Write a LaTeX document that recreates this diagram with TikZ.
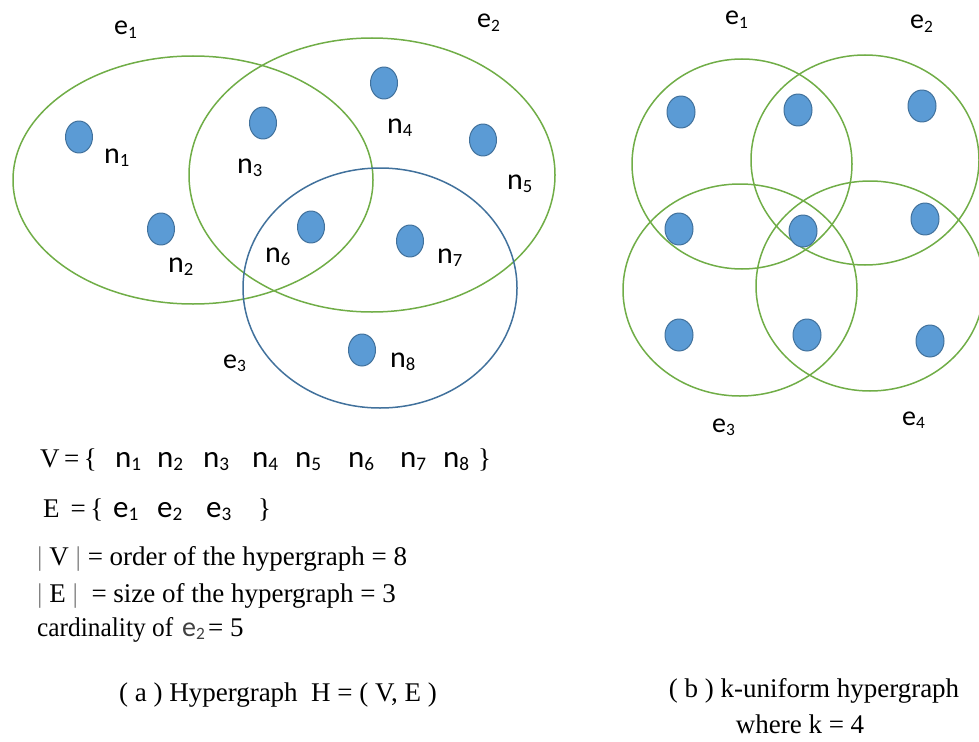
\documentclass[tikz,border=0pt]{standalone}
\usepackage{fontspec}
\usepackage{graphicx}
\setmainfont{Liberation Serif}
\newfontfamily\labfont{Carlito}
\usetikzlibrary{shapes.geometric}
\definecolor{edgegreen}{RGB}{112,173,71}
\definecolor{edgeblue}{RGB}{65,113,156}
\definecolor{dotfill}{RGB}{91,155,213}
\definecolor{dotdraw}{RGB}{65,113,156}
\newcommand\sbs[1]{\raisebox{-0.12em}{\scalebox{0.62}{#1}}}
\tikzset{
  dot/.style={ellipse, fill=dotfill, draw=dotdraw, line width=1pt,
    minimum width=27pt, minimum height=32pt, inner sep=0pt},
  vlabel/.style={font=\labfont\fontsize{30}{30}\selectfont, anchor=base west, inner sep=0pt},
  elabel/.style={font=\labfont\fontsize{28}{28}\selectfont, anchor=base west, inner sep=0pt},
  setitem/.style={font=\labfont\fontsize{31}{31}\selectfont, anchor=base west, inner sep=0pt},
  txt/.style={font=\fontsize{27}{27}\selectfont, anchor=base west, inner sep=0pt},
  hedge/.style={draw=edgegreen, line width=1.5pt},
}
\begin{document}
\begin{tikzpicture}[x=1pt, y=-1pt, line join=round, line cap=round]
\useasboundingbox (0,0) rectangle (979,741);
% (a) hypergraph
\draw[hedge] (193,180) ellipse [x radius=180, y radius=124];
\draw[hedge] (372,175) ellipse [x radius=183, y radius=137];
\draw[draw=edgeblue, line width=1.5pt] (380,288) ellipse [x radius=137, y radius=120];
\foreach \i/\x/\y in {1/79/137, 2/161/229, 3/263/123, 4/384/83,
    5/483/140, 6/311/227, 7/410/241, 8/362/350}
  \node[dot] (n\i) at (\x,\y) {};
\foreach \i/\x/\y in {1/104/163, 2/168/272, 3/237/173, 4/387/133,
    5/507/189, 6/265/262, 7/437/263, 8/390/367}
  \node[vlabel] (ln\i) at (\x,\y) {n\sbs{\i}};
\node[elabel] (le1) at (114,35) {e\sbs{1}};
\node[elabel] (le2) at (477,28) {e\sbs{2}};
\node[elabel] (le3) at (223,368) {e\sbs{3}};

% (b) k-uniform hypergraph
\draw[hedge] (742,164) circle [x radius=110, y radius=105];
\draw[hedge] (865,160) circle [x radius=114, y radius=105];
\draw[hedge] (740,290) circle [x radius=117, y radius=106];
\draw[hedge] (870,286) circle [x radius=114, y radius=105];
\foreach \i/\x/\y in {1/681/112, 2/798/110, 3/922/106, 4/679/229, 5/803/231,
    6/925/219, 7/679/335, 8/807/335, 9/930/341}
  \node[dot, minimum width=28pt] (k\i) at (\x,\y) {};
\node[elabel] (ke1) at (725,25) {e\sbs{1}};
\node[elabel] (ke2) at (910,29) {e\sbs{2}};
\node[elabel] (ke3) at (712,432) {e\sbs{3}};
\node[elabel] (ke4) at (902,425) {e\sbs{4}};

% sets
\node[txt] (vset) at (40,467) {V\,=\,\{};
\foreach \i/\x in {1/115, 2/157, 3/203, 4/252, 5/295, 6/348, 7/400, 8/443}
  \node[setitem] (vs\i) at (\x,467) {n\sbs{\i}};
\node[txt] (vend) at (478,467) {\}};
\node[txt] (eset) at (43,517) {E\hspace{11pt}=\,\{};
\foreach \i/\x in {1/113, 2/157, 3/206}
  \node[setitem] (es\i) at (\x,517) {e\sbs{\i}};
\node[txt] (eend) at (258,517) {\}};
\node[txt] (order) at (37,565) {\textcolor{gray}{|} V \textcolor{gray}{|} = order of the hypergraph = 8};
\node[txt] (size) at (37,602) {\textcolor{gray}{|} E \textcolor{gray}{|} \ = size of the hypergraph = 3};
\node[txt] (card) at (37,636) {\scalebox{0.94}[1]{cardinality of}};
\node[elabel, text=black!75] (cardE) at (182,636) {e\sbs{2}};
\node[txt] (cardv) at (208,636) {= 5};

% captions
\node[txt, anchor=base] (capa) at (278,701) {( a ) Hypergraph\ \ H = ( V, E )};
\node[txt, anchor=base] (capb) at (814,697) {( b ) k-uniform hypergraph};
\node[txt, anchor=base] (capb2) at (800,733) {where k = 4};
\end{tikzpicture}
\end{document}
